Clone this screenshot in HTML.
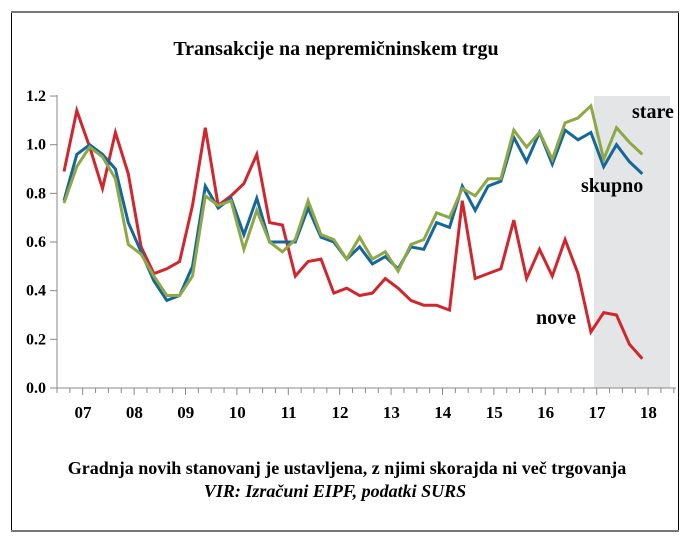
<!DOCTYPE html>
<html><head><meta charset="utf-8"><style>
body{margin:0;background:#fff;width:696px;height:556px;overflow:hidden}
svg{display:block}
text{font-family:"Liberation Serif",serif}
</style></head><body>
<svg id="s" width="696" height="556" xmlns="http://www.w3.org/2000/svg">
<rect x="11.5" y="12" width="667" height="519" fill="#fff" stroke="#000" stroke-width="1"/>
<line x1="11" y1="12" x2="679" y2="12" stroke="#777" stroke-width="2"/>
<line x1="11" y1="531" x2="679" y2="531" stroke="#777" stroke-width="2"/>
<text x="336" y="55" text-anchor="middle" font-size="20" font-weight="bold">Transakcije na nepremičninskem trgu</text>
<rect x="594" y="96" width="76" height="292" fill="#e4e5e7"/>
<g id="ax"></g>
<g id="ln"></g>
<text x="632" y="118" font-size="20" font-weight="bold">stare</text>
<text x="581" y="192" font-size="20" font-weight="bold">skupno</text>
<text x="536" y="324" font-size="20" font-weight="bold">nove</text>
<text x="347" y="474" text-anchor="middle" font-size="18" font-weight="bold">Gradnja novih stanovanj je ustavljena, z njimi skorajda ni več trgovanja</text>
<text x="335" y="497" text-anchor="middle" font-size="18" font-weight="bold" font-style="italic">VIR: Izračuni EIPF, podatki SURS</text>
</svg>
<script>
var NS="http://www.w3.org/2000/svg";
function el(t,a,p,txt){var e=document.createElementNS(NS,t);for(var k in a)e.setAttribute(k,a[k]);if(txt)e.textContent=txt;document.getElementById(p).appendChild(e);}
function Y(v){return 388-243.3*v;}
el('line',{x1:57,y1:95,x2:57,y2:388,stroke:'#888','stroke-width':1},'ax');
el('line',{x1:50,y1:388,x2:676,y2:388,stroke:'#888','stroke-width':1},'ax');
['0.0','0.2','0.4','0.6','0.8','1.0','1.2'].forEach(function(t,i){var y=Y(i*0.2);
el('line',{x1:50,y1:y,x2:57,y2:y,stroke:'#888'},'ax');
el('text',{x:46,y:y+5,'text-anchor':'end','font-size':16,'font-weight':'bold'},'ax',t);});
for(var i=0;i<49;i++){var x=57+12.85*i;el('line',{x1:x,y1:388,x2:x,y2:(i%4==2?395:393),stroke:'#888'},'ax');}
['07','08','09','10','11','12','13','14','15','16','17','18'].forEach(function(t,i){
el('text',{x:83+51.4*i,y:418,'text-anchor':'middle','font-size':17,'font-weight':'bold'},'ax',t);});
var red=[0.89,1.14,0.99,0.82,1.05,0.88,0.58,0.47,0.49,0.52,0.75,1.07,0.75,0.79,0.84,0.96,0.68,0.67,0.46,0.52,0.53,0.39,0.41,0.38,0.39,0.45,0.41,0.36,0.34,0.34,0.32,0.77,0.45,0.47,0.49,0.69,0.45,0.57,0.46,0.61,0.47,0.23,0.31,0.30,0.18,0.12];
var blue=[0.77,0.96,1.0,0.96,0.90,0.68,0.56,0.44,0.36,0.38,0.50,0.83,0.74,0.78,0.63,0.78,0.60,0.60,0.60,0.74,0.62,0.60,0.53,0.58,0.51,0.54,0.49,0.58,0.57,0.68,0.66,0.83,0.73,0.83,0.85,1.03,0.93,1.05,0.92,1.06,1.02,1.05,0.91,1.00,0.93,0.88];
var green=[0.76,0.91,0.99,0.95,0.86,0.59,0.55,0.46,0.38,0.38,0.46,0.79,0.75,0.77,0.57,0.73,0.60,0.56,0.61,0.77,0.63,0.61,0.53,0.62,0.53,0.56,0.48,0.59,0.61,0.72,0.70,0.82,0.79,0.86,0.86,1.06,0.99,1.05,0.94,1.09,1.11,1.16,0.94,1.07,1.01,0.96];
function pl(d,c){el('polyline',{points:d.map(function(v,i){return (64+12.85*i).toFixed(1)+','+Y(v).toFixed(1);}).join(' '),fill:'none',stroke:c,'stroke-width':3,'stroke-linejoin':'miter'},'ln');}
pl(red,'#d0262e');pl(blue,'#15679b');pl(green,'#8ea846');
</script>
</body></html>
